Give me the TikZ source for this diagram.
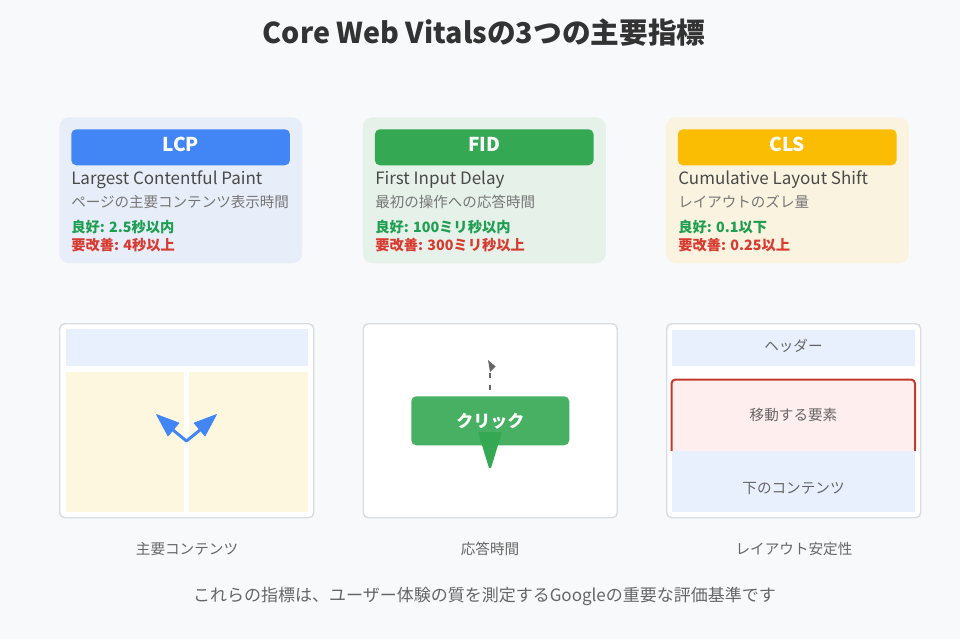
\documentclass[tikz,border=0pt]{standalone}
\usepackage{fontspec}
\setmainfont{Noto Sans CJK JP}
\definecolor{bgc}{HTML}{F8F9FA}
\definecolor{gblue}{HTML}{4285F4}
\definecolor{ggreen}{HTML}{34A853}
\definecolor{gyellow}{HTML}{FBBC04}
\definecolor{gred}{HTML}{C5392C}
\definecolor{lblue}{HTML}{E8F0FE}
\definecolor{cblue}{HTML}{E7EEF9}
\definecolor{lgreen}{HTML}{E5F1E9}
\definecolor{lyellow}{HTML}{FAF3DF}
\definecolor{lcream}{HTML}{FEF7E0}
\definecolor{lred}{HTML}{FFEEEE}
\definecolor{titlec}{HTML}{333333}
\definecolor{txt}{HTML}{4A4A4A}
\definecolor{subc}{HTML}{666666}
\definecolor{descc}{HTML}{767676}
\definecolor{okc}{HTML}{1E9E50}
\definecolor{ngc}{HTML}{D93A30}
\definecolor{edge}{HTML}{DADCE0}
\newcommand{\fs}[1]{\fontsize{#1}{#1}\selectfont}
\newcommand{\up}[2]{\raisebox{#1}{#2}}
\tikzset{
  card/.style={rounded corners=7.5pt,minimum width=182.25pt,minimum height=109.5pt,inner sep=0pt,anchor=north west},
  headbox/.style={rounded corners=3.75pt,minimum width=164pt,minimum height=27pt,inner sep=0pt,anchor=north west,text=white,font=\fs{14.3}\bfseries},
  nametxt/.style={anchor=west,inner sep=0pt,text=txt,font=\fs{12.75}},
  desctxt/.style={anchor=west,inner sep=0pt,text=descc,font=\fs{10.9}},
  goodtxt/.style={anchor=west,inner sep=0pt,text=okc,font=\fs{10.7}\bfseries},
  badtxt/.style={anchor=west,inner sep=0pt,text=ngc,font=\fs{10.7}\bfseries},
  panel/.style={draw=edge,line width=1.1pt,fill=white,rounded corners=3.75pt,minimum width=190.5pt,minimum height=145.5pt,inner sep=0pt,anchor=north west},
  blk/.style={inner sep=0pt,anchor=north west},
  labtxt/.style={inner sep=0pt,text=subc,font=\fs{10.95}},
}
\begin{document}
\begin{tikzpicture}[x=0.75pt,y=-0.75pt]
\useasboundingbox (0,0) rectangle (960,639);
\fill[bgc] (0,0) rectangle (960,639);
\node[inner sep=0pt,text=titlec,font=\fs{21.5}\bfseries] (title) at (484,33) {Core Web Vitalsの3つの主要指標};
% cards
\node[card,fill=cblue] (c1) at (59,117) {};
\node[headbox,fill=gblue] (h1) at (71,129) {\up{4.5pt}{LCP}};
\node[nametxt] (n1) at (71,180) {Largest Contentful Paint};
\node[desctxt] (d1) at (71,202) {ページの主要コンテンツ表示時間};
\node[goodtxt] (g1) at (71,227) {良好: 2.5秒以内};
\node[badtxt] (b1) at (71,245) {要改善: 4秒以上};
\node[card,fill=lgreen] (c2) at (362.6,117) {};
\node[headbox,fill=ggreen] (h2) at (374.6,129) {\up{4.5pt}{FID}};
\node[nametxt] (n2) at (375,180) {First Input Delay};
\node[desctxt] (d2) at (375,202) {最初の操作への応答時間};
\node[goodtxt] (g2) at (375,227) {良好: 100ミリ秒以内};
\node[badtxt] (b2) at (375,245) {要改善: 300ミリ秒以上};
\node[card,fill=lyellow] (c3) at (665.6,117) {};
\node[headbox,fill=gyellow] (h3) at (677.6,129) {\up{4.5pt}{CLS}};
\node[nametxt] (n3) at (678,180) {Cumulative Layout Shift};
\node[desctxt] (d3) at (678,202) {レイアウトのズレ量};
\node[goodtxt] (g3) at (678,227) {良好: 0.1以下};
\node[badtxt] (b3) at (678,245) {要改善: 0.25以上};
% panel 1
\node[panel] (p1) at (59,323) {};
\fill[lblue] (65.5,329.3) rectangle (307.8,365.5);
\fill[lcream] (65.5,372) rectangle (184,511.5);
\fill[lcream] (189.3,372) rectangle (307.8,511.5);
\draw[gblue,line width=2.2pt,line join=round] (173,430) -- (186.5,441) -- (200,430);
\fill[gblue,draw=gblue,line width=.5pt,line join=round] (156.5,414.5) -- (179,423) -- (168,436) -- cycle;
\fill[gblue,draw=gblue,line width=.5pt,line join=round] (216.5,414.5) -- (194,423) -- (205,436) -- cycle;
\node[labtxt] (l1) at (187,549) {主要コンテンツ};
% panel 2
\node[panel] (p2) at (362.5,323) {};
\node[inner sep=0pt,minimum width=118.5pt,minimum height=36.75pt,rounded corners=3.75pt,fill=ggreen,fill opacity=.9,text opacity=1,text=white,font=\fs{12.75}\bfseries,anchor=north west] (btn) at (411,396) {クリック};
\fill[ggreen] (478,432) -- (502,432) -- (491,468) -- (489,468) -- cycle;
\draw[subc,line width=1.8pt,dash pattern=on 3.75pt off 5.25pt] (490,390) -- (490,366);
\fill[subc] (488,360) -- (495.7,366.5) -- (490,372) -- cycle;
\node[labtxt] (l2) at (490,549) {応答時間};
% panel 3
\node[panel] (p3) at (666,323) {};
\node[blk,fill=lblue,minimum width=181.8pt,minimum height=27.2pt,text=subc,font=\fs{10.95}] (hd) at (672,329.3) {\up{3pt}{ヘッダー}};
\fill[lred] (672,380) rectangle (915,451);
\draw[gred,line width=1.5pt,rounded corners=3pt] (671.5,451) -- (671.5,379.5) -- (915,379.5) -- (915,451);
\node[blk,fill=lblue,minimum width=181.8pt,minimum height=46.2pt] (lo) at (672,450.3) {};
\node[labtxt] (mv) at (793.5,415) {移動する要素};
\node[labtxt] (lc) at (793.5,488) {下のコンテンツ};
\node[labtxt] (l3) at (794,549) {レイアウト安定性};
\node[inner sep=0pt,text=subc,font=\fs{12.75}] (foot) at (484.5,596) {これらの指標は、ユーザー体験の質を測定するGoogleの重要な評価基準です};
\end{tikzpicture}
\end{document}
